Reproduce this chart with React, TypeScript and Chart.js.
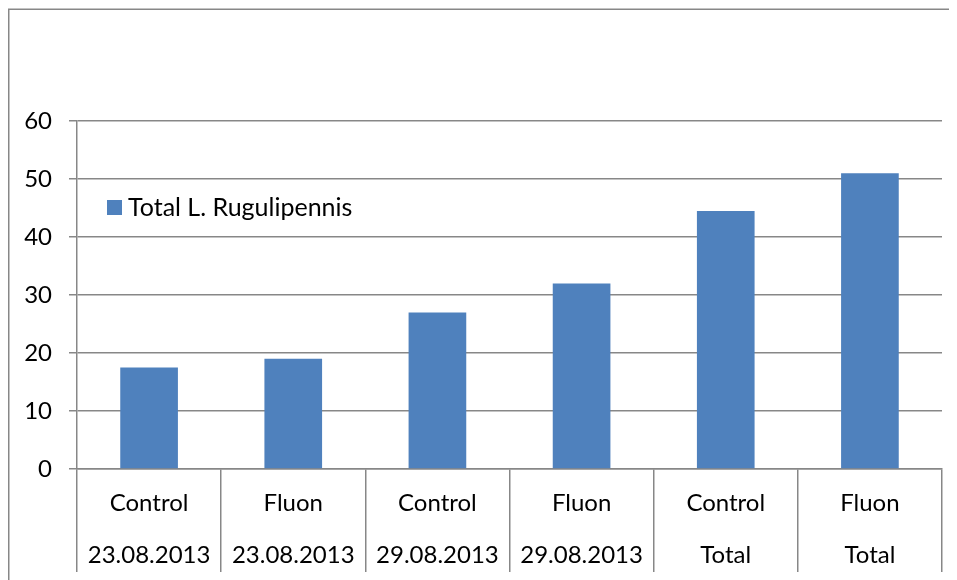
import React, { useEffect, useRef } from "react";
import { Chart, registerables } from "chart.js";

Chart.register(...registerables);

const treatments = ["Control", "Fluon", "Control", "Fluon", "Control", "Fluon"];
const dates = ["23.08.2013", "23.08.2013", "29.08.2013", "29.08.2013", "Total", "Total"];
const seriesName = "Total L. Rugulipennis";
const values = [17.5, 19, 27, 32, 44.5, 51];
const yTicks = [0, 10, 20, 30, 40, 50, 60];

const FONT = "Lato, 'Liberation Sans', sans-serif";
const GRID = "#878787";
const BAR = "#4F81BD";
const FS = 24;
const LEGEND_FS = 25;

const W = 946;
const H = 572;

export default function App() {
  const ref = useRef<HTMLCanvasElement | null>(null);

  useEffect(() => {
    const canvas = ref.current;
    if (!canvas) return;

    const frame = {
      id: "frame",
      beforeDraw(chart: any) {
        const ctx = chart.ctx;
        ctx.save();
        ctx.fillStyle = "#ffffff";
        ctx.fillRect(0, 0, chart.width, chart.height);
        ctx.strokeStyle = GRID;
        ctx.lineWidth = 1.5;
        ctx.beginPath();
        ctx.moveTo(0.75, chart.height);
        ctx.lineTo(0.75, 1.25);
        ctx.lineTo(chart.width - 0.75, 1.25);
        ctx.lineTo(chart.width - 0.75, chart.height);
        ctx.stroke();
        ctx.restore();
      },
    };

    const innerLegend = {
      id: "innerLegend",
      afterDraw(chart: any) {
        const ctx = chart.ctx;
        const ds = chart.data.datasets[0];
        ctx.save();
        ctx.fillStyle = ds.backgroundColor;
        ctx.fillRect(99, 192, 15, 15);
        ctx.fillStyle = "#000000";
        ctx.font = LEGEND_FS + "px " + FONT;
        ctx.textBaseline = "middle";
        ctx.textAlign = "left";
        ctx.fillText(ds.label, 120, 200);
        ctx.restore();
      },
    };

    const chart = new Chart(canvas, {
      type: "bar",
      data: {
        labels: treatments.map((t, i) => [t, dates[i]]),
        datasets: [
          {
            label: seriesName,
            data: values,
            backgroundColor: BAR,
            borderWidth: 0,
            categoryPercentage: 1,
            barPercentage: 0.4,
          },
        ],
      },
      options: {
        animation: false,
        responsive: false,
        devicePixelRatio: 1,
        layout: { padding: { top: 113, right: 12, left: 0, bottom: 0 } },
        plugins: {
          legend: { display: false },
          tooltip: { enabled: false },
        },
        scales: {
          x: {
            offset: true,
            grid: {
              offset: true,
              drawOnChartArea: false,
              drawTicks: true,
              tickLength: 103,
              color: GRID,
              lineWidth: 1.5,
            },
            border: { display: true, color: GRID, width: 1.5 },
            ticks: {
              color: "#000000",
              font: { family: FONT, size: FS, lineHeight: 52 / FS },
              padding: -95,
              maxRotation: 0,
              autoSkip: false,
            },
            afterFit(scale: any) {
              scale.height = 111;
            },
          },
          y: {
            min: 0,
            max: 60,
            afterBuildTicks(scale: any) {
              scale.ticks = yTicks.map((v) => ({ value: v }));
            },
            grid: {
              color: GRID,
              lineWidth: 1.5,
              tickLength: 8,
              drawTicks: true,
            },
            border: { display: true, color: GRID, width: 1.5 },
            ticks: {
              color: "#000000",
              font: { family: FONT, size: FS },
              padding: 17,
            },
            afterFit(scale: any) {
              scale.width = 69;
            },
          },
        },
      },
      plugins: [frame, innerLegend],
    });

    return () => chart.destroy();
  }, []);

  return (
    <div style={{ width: W, height: H }}>
      <canvas ref={ref} width={W} height={H} style={{ display: "block" }} />
    </div>
  );
}
